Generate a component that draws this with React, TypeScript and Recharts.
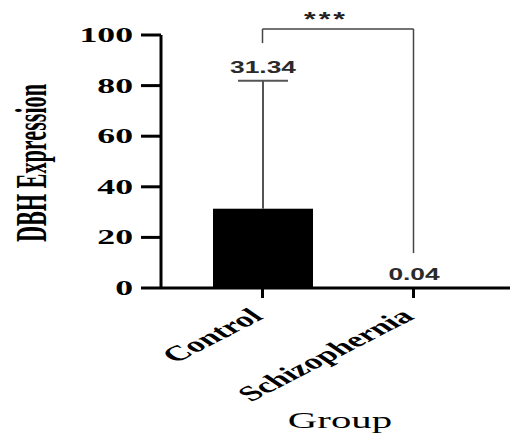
import { BarChart, Bar, XAxis, YAxis, ReferenceLine } from "recharts";

const groups = ["Control", "Schizophernia"];
const means = [31.34, 0.04];
const sds = [50.6, 0];
const yTicks = [0, 20, 40, 60, 80, 100];
// significance bracket (data units)
const bracketTop = 102.4;
const bracketLeftEnd = 96.8;
const bracketRightEnd = 13.8;
const sigText = "***";

const data = groups.map((g, i) => ({ name: g, mean: means[i], sd: sds[i] }));

const SERIF = "'Liberation Serif', 'Times New Roman', serif";
const SANS = "'Liberation Sans', Arial, sans-serif";
const SX = 1.7; // the picture is stretched sideways

function BarShape(p: any) {
  const { x, y, width, height, payload } = p;
  const k = payload.mean > 0 ? height / payload.mean : 0;
  const top = y - payload.sd * k;
  const cx = x + width / 2;
  return (
    <g>
      <rect x={x} y={y} width={width} height={Math.max(height, 0)} fill="#000" />
      {payload.sd > 0 && (
        <g stroke="#555" strokeWidth={2}>
          <line x1={cx} x2={cx} y1={y} y2={top} />
          <line x1={cx - 25} x2={cx + 25} y1={top} y2={top} />
        </g>
      )}
      <text
        transform={`translate(${cx},${top - 8}) scale(1.55,1)`}
        textAnchor="middle"
        fontFamily={SANS}
        fontWeight="bold"
        fontSize={17}
        fill="#2a2a2a"
      >
        {payload.mean.toFixed(2)}
      </text>
    </g>
  );
}

function YTick(p: any) {
  const { x, y, payload } = p;
  return (
    <text
      transform={`translate(${x},${y + 7}) scale(${SX},1)`}
      textAnchor="end"
      fontFamily={SERIF}
      fontWeight="bold"
      fontSize={21}
      fill="#000"
    >
      {payload.value}
    </text>
  );
}

function XTick(p: any) {
  const { x, y, payload } = p;
  return (
    <text
      transform={`translate(${x + 2},${y + 16}) scale(${SX},1) rotate(-41)`}
      textAnchor="end"
      fontFamily={SERIF}
      fontWeight="bold"
      fontSize={21}
      fill="#000"
    >
      {payload.value}
    </text>
  );
}

export default function App() {
  return (
    <div style={{ position: "absolute", left: 0, top: 0, background: "#fff" }}>
      <BarChart
        width={510}
        height={435}
        data={data}
        margin={{ top: 35, right: 0, bottom: 0, left: 101 }}
      >
        <XAxis
          dataKey="name"
          padding={{ left: 26, right: 21 }}
          tickSize={10}
          tickMargin={4}
          axisLine={{ stroke: "#000", strokeWidth: 3 }}
          tickLine={{ stroke: "#000", strokeWidth: 3 }}
          tick={<XTick />}
          interval={0}
          height={147}
          label={{
            content: () => (
              <text
                transform={`translate(340,428) scale(${SX},1)`}
                textAnchor="middle"
                fontFamily={SERIF}
                fontSize={24}
                fill="#000"
              >
                Group
              </text>
            ),
          }}
        />
        <YAxis
          width={60}
          domain={[0, 100]}
          ticks={yTicks}
          interval={0}
          tickSize={20}
          tickMargin={8}
          axisLine={{ stroke: "#000", strokeWidth: 3 }}
          tickLine={{ stroke: "#000", strokeWidth: 3 }}
          tick={<YTick />}
          label={{
            content: () => (
              <text
                transform="translate(46,163) rotate(-90)"
                textAnchor="middle"
                fontFamily={SERIF}
                fontWeight="bold"
                fontSize={44}
                textLength={158}
                lengthAdjust="spacingAndGlyphs"
                fill="#000"
              >
                DBH Expression
              </text>
            ),
          }}
        />
        <Bar dataKey="mean" barSize={100} shape={<BarShape />} isAnimationActive={false} />
        <ReferenceLine
          segment={[
            { x: groups[0], y: bracketLeftEnd },
            { x: groups[0], y: bracketTop },
          ]}
          stroke="#444"
          strokeWidth={1.5}
          ifOverflow="visible"
        />
        <ReferenceLine
          segment={[
            { x: groups[0], y: bracketTop },
            { x: groups[1], y: bracketTop },
          ]}
          stroke="#444"
          strokeWidth={1.5}
          ifOverflow="visible"
          label={{
            content: () => (
              <text
                transform="translate(326,26) scale(1.5,1)"
                textAnchor="middle"
                fontFamily={SANS}
                fontWeight="bold"
                fontSize={20}
                letterSpacing={2}
                fill="#222"
              >
                {sigText}
              </text>
            ),
          }}
        />
        <ReferenceLine
          segment={[
            { x: groups[1], y: bracketTop },
            { x: groups[1], y: bracketRightEnd },
          ]}
          stroke="#444"
          strokeWidth={1.5}
          ifOverflow="visible"
        />
      </BarChart>
    </div>
  );
}
